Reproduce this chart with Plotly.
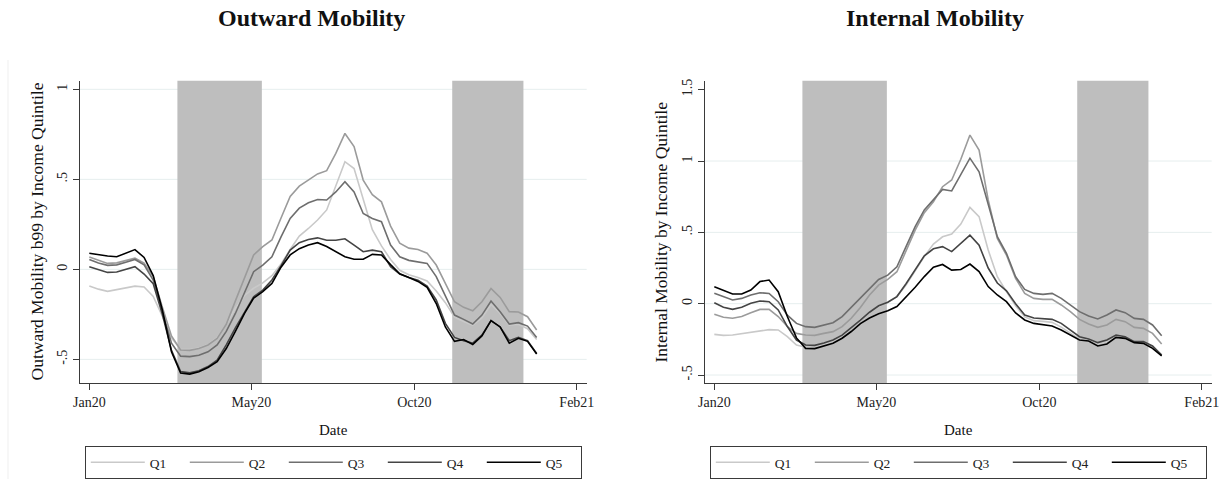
import plotly.graph_objects as go

# semanas (indice) no eixo x
semanas = list(range(50))
ticks_pos = [0, 17.75, 35.6, 53.4]
ticks_txt = ["Jan20", "May20", "Oct20", "Feb21"]

# periodos sombreados (em semanas)
sombra_ini = [9.65, 39.75]
sombra_fim = [18.9, 47.55]

quintis = ["Q1", "Q2", "Q3", "Q4", "Q5"]
cores = ["#c9c9c9", "#9b9b9b", "#6e6e6e", "#444444", "#000000"]

# Outward Mobility b99
out_q1 = [-0.093, -0.11, -0.122, -0.112, -0.1, -0.093, -0.098, -0.15, -0.26, -0.38,
          -0.445, -0.445, -0.437, -0.418, -0.38, -0.305, -0.215, -0.145, -0.105, -0.075,
          -0.035, 0.03, 0.11, 0.185, 0.227, 0.274, 0.33, 0.459, 0.598, 0.56,
          0.395, 0.22, 0.13, 0.055, -0.005, -0.03, -0.045, -0.065, -0.12, -0.185,
          -0.265, -0.29, -0.31, -0.27, -0.195, -0.245, -0.31, -0.305, -0.33, -0.39]
out_q2 = [0.068, 0.05, 0.033, 0.036, 0.05, 0.062, 0.035, -0.04, -0.21, -0.37,
          -0.448, -0.45, -0.44, -0.42, -0.384, -0.305, -0.175, -0.05, 0.08, 0.126,
          0.163, 0.285, 0.405, 0.462, 0.496, 0.53, 0.548, 0.644, 0.755, 0.682,
          0.496, 0.415, 0.375, 0.24, 0.145, 0.118, 0.11, 0.09, 0.024, -0.078,
          -0.18, -0.211, -0.23, -0.18, -0.106, -0.156, -0.235, -0.237, -0.263, -0.337]
out_q3 = [0.055, 0.035, 0.022, 0.025, 0.04, 0.055, 0.025, -0.06, -0.235, -0.41,
          -0.482, -0.485, -0.477, -0.458, -0.42, -0.345, -0.245, -0.13, -0.013, 0.024,
          0.07, 0.18, 0.283, 0.34, 0.37, 0.388, 0.385, 0.43, 0.487, 0.43,
          0.31, 0.283, 0.265, 0.135, 0.07, 0.05, 0.042, 0.033, -0.04, -0.152,
          -0.254, -0.278, -0.304, -0.254, -0.176, -0.235, -0.304, -0.296, -0.315, -0.378]
out_q4 = [0.015, 0.0, -0.017, -0.015, 0.0, 0.015, -0.026, -0.08, -0.25, -0.45,
          -0.568, -0.575, -0.563, -0.54, -0.505, -0.42, -0.325, -0.235, -0.152, -0.115,
          -0.059, 0.02, 0.107, 0.148, 0.166, 0.175, 0.162, 0.162, 0.17, 0.135,
          0.098, 0.107, 0.098, 0.015, -0.026, -0.045, -0.06, -0.093, -0.17, -0.3,
          -0.378, -0.396, -0.41, -0.365, -0.285, -0.32, -0.396, -0.378, -0.396, -0.467]
out_q5 = [0.089, 0.08, 0.074, 0.07, 0.09, 0.11, 0.066, -0.035, -0.226, -0.458,
          -0.576, -0.582, -0.569, -0.545, -0.513, -0.44, -0.345, -0.245, -0.16, -0.124,
          -0.078, 0.012, 0.08, 0.115, 0.135, 0.148, 0.127, 0.098, 0.07, 0.056,
          0.056, 0.083, 0.08, 0.026, -0.025, -0.045, -0.067, -0.1, -0.19, -0.32,
          -0.4, -0.39, -0.417, -0.37, -0.285, -0.32, -0.41, -0.383, -0.4, -0.47]

# Internal Mobility
int_q1 = [-0.215, -0.222, -0.219, -0.21, -0.2, -0.19, -0.182, -0.184, -0.231, -0.29,
          -0.305, -0.305, -0.29, -0.265, -0.225, -0.17, -0.11, -0.06, -0.02, 0.01,
          0.05, 0.13, 0.23, 0.33, 0.418, 0.469, 0.488, 0.558, 0.675, 0.61,
          0.376, 0.189, 0.085, -0.015, -0.093, -0.119, -0.124, -0.131, -0.164, -0.206,
          -0.248, -0.255, -0.282, -0.266, -0.226, -0.231, -0.266, -0.266, -0.303, -0.36]
int_q2 = [-0.074, -0.095, -0.102, -0.09, -0.063, -0.04, -0.04, -0.09, -0.16, -0.208,
          -0.219, -0.222, -0.208, -0.196, -0.161, -0.102, -0.026, 0.061, 0.13, 0.17,
          0.224, 0.365, 0.516, 0.638, 0.715, 0.82, 0.867, 1.012, 1.182, 1.077,
          0.727, 0.458, 0.341, 0.178, 0.072, 0.037, 0.03, 0.03, -0.009, -0.056,
          -0.11, -0.142, -0.166, -0.149, -0.11, -0.126, -0.166, -0.173, -0.208, -0.282]
int_q3 = [0.073, 0.05, 0.026, 0.037, 0.061, 0.077, 0.072, 0.014, -0.08, -0.138,
          -0.161, -0.166, -0.149, -0.133, -0.091, -0.026, 0.037, 0.107, 0.17, 0.2,
          0.259, 0.4, 0.54, 0.657, 0.731, 0.801, 0.79, 0.902, 1.02, 0.925,
          0.692, 0.47, 0.353, 0.189, 0.1, 0.072, 0.065, 0.072, 0.037, -0.009,
          -0.056, -0.086, -0.107, -0.079, -0.044, -0.063, -0.103, -0.11, -0.149, -0.224]
int_q4 = [0.007, -0.025, -0.04, -0.025, 0.003, 0.019, 0.014, -0.044, -0.16, -0.255,
          -0.29, -0.292, -0.275, -0.255, -0.22, -0.17, -0.115, -0.06, -0.015, 0.01,
          0.05, 0.14, 0.24, 0.335, 0.385, 0.4, 0.365, 0.42, 0.48, 0.41,
          0.25, 0.145, 0.09, 0.0, -0.079, -0.1, -0.107, -0.11, -0.138, -0.184,
          -0.231, -0.248, -0.273, -0.254, -0.22, -0.231, -0.266, -0.266, -0.296, -0.36]
int_q5 = [0.119, 0.096, 0.068, 0.068, 0.096, 0.155, 0.166, 0.084, -0.09, -0.24,
          -0.313, -0.315, -0.296, -0.277, -0.242, -0.195, -0.14, -0.1, -0.07, -0.05,
          -0.02, 0.045, 0.115, 0.19, 0.255, 0.275, 0.235, 0.24, 0.278, 0.225,
          0.12, 0.061, 0.014, -0.065, -0.114, -0.138, -0.145, -0.156, -0.184, -0.22,
          -0.255, -0.262, -0.296, -0.282, -0.236, -0.243, -0.273, -0.278, -0.313, -0.366]

# ticks do eixo y
out_ticks = [-0.5, 0, 0.5, 1]
out_ticks_txt = ["-.5", "0", ".5", "1"]
int_ticks = [-0.5, 0, 0.5, 1, 1.5]
int_ticks_txt = ["-.5", "0", ".5", "1", "1.5"]
int_grade = [-0.5, 0, 0.5, 1]

fonte = "Liberation Serif"
W, H = 1230, 479

fig = go.Figure()

for nome, cor, vals in zip(quintis, cores, [out_q1, out_q2, out_q3, out_q4, out_q5]):
    fig.add_trace(go.Scatter(x=semanas, y=vals, mode="lines", name=nome,
                             line=dict(color=cor, width=1.6),
                             xaxis="x", yaxis="y", legend="legend"))

for nome, cor, vals in zip(quintis, cores, [int_q1, int_q2, int_q3, int_q4, int_q5]):
    fig.add_trace(go.Scatter(x=semanas, y=vals, mode="lines", name=nome,
                             line=dict(color=cor, width=1.6),
                             xaxis="x2", yaxis="y2", legend="legend2"))

# linhas de grade (desenhadas antes das sombras, para ficarem por baixo)
for eixo_ref, grade in [("x", out_ticks), ("x2", int_grade)]:
    yref = "y" if eixo_ref == "x" else "y2"
    for v in grade:
        fig.add_shape(type="line", xref=eixo_ref + " domain", yref=yref,
                      x0=0, x1=1, y0=v, y1=v,
                      line=dict(color="#e6eeee", width=1), layer="below")

# sombras
for xr, yr in [("x", "y domain"), ("x2", "y2 domain")]:
    for a, b in zip(sombra_ini, sombra_fim):
        fig.add_shape(type="rect", xref=xr, yref=yr, x0=a, x1=b, y0=0, y1=1,
                      fillcolor="#bebebe", line_width=0, layer="below")

eixo_x = dict(
    range=[-1.02, 54.48],
    tickvals=ticks_pos,
    ticktext=ticks_txt,
    showgrid=False,
    zeroline=False,
    showline=True,
    linecolor="#3a3a3a",
    linewidth=1,
    ticks="outside",
    ticklen=6,
    tickcolor="#3a3a3a",
    tickfont=dict(family=fonte, size=14, color="#222"),
)
eixo_y = dict(
    tickangle=-90,
    showgrid=False,
    zeroline=False,
    showline=True,
    linecolor="#3a3a3a",
    linewidth=1,
    ticks="outside",
    ticklen=6,
    tickcolor="#3a3a3a",
    tickfont=dict(family=fonte, size=14, color="#222"),
)

y_dom = [(H - 383.3) / H, (H - 80.7) / H]

leg = dict(orientation="h", xanchor="center",
           y=(H - 446) / H, yanchor="top",
           bordercolor="#3a3a3a", borderwidth=1,
           font=dict(family=fonte, size=13.5, color="#222"),
           itemwidth=54, entrywidth=30, entrywidthmode="pixels")

fig.update_layout(
    width=W,
    height=H,
    margin=dict(l=0, r=0, t=0, b=0, autoexpand=False),
    paper_bgcolor="white",
    plot_bgcolor="white",
    xaxis=dict(eixo_x, domain=[80 / W, 586.7 / W], anchor="y"),
    yaxis=dict(eixo_y, domain=y_dom, anchor="x", range=[-0.633, 1.048],
               tickvals=out_ticks, ticktext=out_ticks_txt),
    xaxis2=dict(eixo_x, domain=[705 / W, 1211.7 / W], anchor="y2"),
    yaxis2=dict(eixo_y, domain=y_dom, anchor="x2", range=[-0.558, 1.563],
                tickvals=int_ticks, ticktext=int_ticks_txt),
    legend=dict(leg, x=333.3 / W),
    legend2=dict(leg, x=958.3 / W),
    showlegend=True,
)

titulos = [
    dict(text="<b>Outward Mobility</b>", x=311 / W, y=1 - 18 / H, size=24, angle=0),
    dict(text="<b>Internal Mobility</b>", x=935 / W, y=1 - 18 / H, size=24, angle=0),
    dict(text="Date", x=333.3 / W, y=1 - 430 / H, size=15, angle=0),
    dict(text="Date", x=958.3 / W, y=1 - 430 / H, size=15, angle=0),
    dict(text="Outward Mobility b99 by Income Quintile", x=36 / W, y=1 - 231.5 / H, size=17.5, angle=-90),
    dict(text="Internal Mobility by Income Quintile", x=660 / W, y=1 - 232.5 / H, size=17.5, angle=-90),
]
for t in titulos:
    fig.add_annotation(text=t["text"], x=t["x"], y=t["y"], xref="paper", yref="paper",
                       showarrow=False, textangle=t["angle"],
                       xanchor="center", yanchor="middle",
                       font=dict(family=fonte, size=t["size"], color="#111"))

# borda fina do grafico da esquerda
fig.add_shape(type="line", xref="paper", yref="paper", x0=8 / W, x1=8 / W,
              y0=0, y1=1 - 60 / H, line=dict(color="#efefef", width=1))

# tira a margem padrao da pagina e a barra de ferramentas
fig.write_html("out.html", config={"displayModeBar": False},
               post_script="document.body.style.margin='0';")
